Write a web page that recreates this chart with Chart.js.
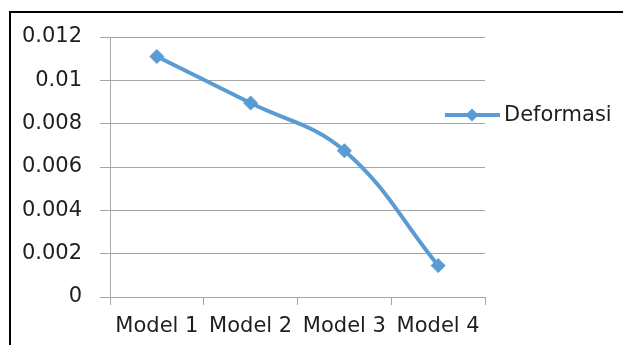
<!DOCTYPE html>
<html>
<head>
<meta charset="utf-8">
<script src="https://cdn.jsdelivr.net/npm/chart.js@4/dist/chart.umd.min.js"></script>
<style>
  html, body { margin: 0; padding: 0; background: #fff; }
  #wrap { position: relative; width: 623px; height: 345px; overflow: hidden; }
  #frame { position: absolute; left: 9px; top: 11px; width: 700px; height: 400px;
           border-left: 2px solid #000; border-top: 2px solid #000; pointer-events: none; }
  canvas { position: absolute; left: 0; top: 0; }
</style>
</head>
<body>
<div id="wrap">
  <canvas id="c" width="623" height="345"></canvas>
  <div id="frame"></div>
</div>
<script>
// ---- data ----
const categories = ['Model 1', 'Model 2', 'Model 3', 'Model 4'];
const deformasi = [0.0111, 0.00895, 0.00675, 0.00145];
const seriesName = 'Deformasi';
const yTickLabels = ['0', '0.002', '0.004', '0.006', '0.008', '0.01', '0.012'];

const BLUE = '#5B9BD5';
const GRID = '#a6a6a6';
const TEXT = '#1e1e1e';
const FONT = 'DejaVu Sans';

const legendPlugin = {
  id: 'sideLegend',
  afterDraw(chart) {
    const ctx = chart.ctx;
    const ds = chart.data.datasets[0];
    const y = 115;
    ctx.save();
    ctx.strokeStyle = ds.borderColor;
    ctx.lineWidth = ds.borderWidth;
    ctx.lineCap = 'butt';
    ctx.beginPath();
    ctx.moveTo(445, y);
    ctx.lineTo(500, y);
    ctx.stroke();
    // diamond marker
    const r = 6.5, cx = 472;
    ctx.fillStyle = ds.pointBackgroundColor;
    ctx.beginPath();
    ctx.moveTo(cx, y - r);
    ctx.lineTo(cx + r, y);
    ctx.lineTo(cx, y + r);
    ctx.lineTo(cx - r, y);
    ctx.closePath();
    ctx.fill();
    ctx.fillStyle = TEXT;
    ctx.font = '21px "' + FONT + '"';
    ctx.textAlign = 'left';
    ctx.textBaseline = 'middle';
    ctx.fillText(ds.label, 504, y + 1);
    ctx.restore();
  }
};

new Chart(document.getElementById('c'), {
  type: 'line',
  data: {
    labels: categories,
    datasets: [{
      label: seriesName,
      data: deformasi,
      borderColor: BLUE,
      backgroundColor: BLUE,
      pointBackgroundColor: BLUE,
      pointBorderColor: BLUE,
      borderWidth: 4,
      pointStyle: 'rectRot',
      pointRadius: 7,
      pointBorderWidth: 1,
      tension: 0.4,
      fill: false
    }]
  },
  options: {
    responsive: false,
    animation: false,
    devicePixelRatio: 1,
    layout: { padding: { left: 0, top: 37, right: 138, bottom: 0 } },
    plugins: { legend: { display: false }, tooltip: { enabled: false } },
    scales: {
      x: {
        offset: true,
        grid: { offset: true, drawOnChartArea: false, drawTicks: true, tickLength: 8, color: GRID, lineWidth: 1 },
        border: { display: true, color: GRID, width: 1 },
        ticks: { autoSkip: false, maxRotation: 0, minRotation: 0, padding: 9, color: TEXT, font: { family: FONT, size: 21 } },
        afterFit(s) { s.height = 48; }
      },
      y: {
        min: 0, max: 0.012,
        ticks: {
          stepSize: 0.002, padding: 18, color: TEXT, font: { family: FONT, size: 21 },
          callback: (v, i) => yTickLabels[i]
        },
        grid: { color: GRID, lineWidth: 1, drawTicks: true, tickLength: 10 },
        border: { display: true, color: GRID, width: 1 },
        afterFit(s) { s.width = 110; }
      }
    }
  },
  plugins: [legendPlugin]
});
</script>
</body>
</html>
